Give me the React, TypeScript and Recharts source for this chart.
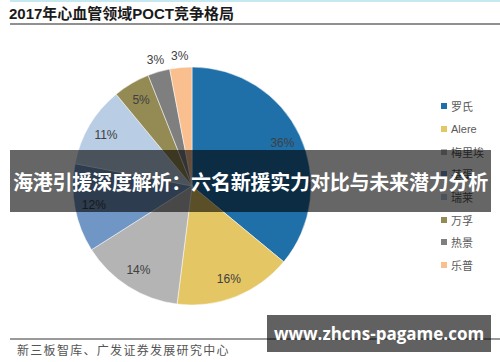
import { Cell, Legend, Pie, PieChart } from "recharts";

const companies = ["罗氏", "Alere", "梅里埃", "基蛋", "瑞莱", "万孚", "热景", "乐普"];
const shares = [36, 16, 14, 12, 11, 5, 3, 3];
const colors = ["#1f6fa8", "#e4c665", "#b4b4b4", "#7096c6", "#b9cde5", "#948a54", "#7f7f7f", "#f9bf8f"];

const data = companies.map((name, i) => ({ name, value: shares[i] }));

const RAD = Math.PI / 180;

const renderLabel = (props: any) => {
  const { cx, cy, midAngle, outerRadius, value } = props;
  const r = value < 4 ? outerRadius + 12 : outerRadius * 0.84;
  const x = cx + r * Math.cos(-midAngle * RAD);
  const y = cy + r * Math.sin(-midAngle * RAD);
  return (
    <text
      x={x}
      y={y}
      textAnchor="middle"
      dominantBaseline="central"
      fontSize={12}
      fontFamily="Liberation Sans, Arial, sans-serif"
      fill="#404040"
    >
      {`${value}%`}
    </text>
  );
};

const renderLegend = () => (
  <div style={{ fontFamily: "Noto Sans CJK SC, sans-serif" }}>
    {companies.map((name, i) => (
      <div key={name} style={{ display: "flex", alignItems: "center", height: 22.7 }}>
        <span style={{ width: 6, height: 6, background: colors[i], marginRight: 4 }} />
        <span
          style={{
            fontSize: 11,
            color: "#595959",
            fontFamily: name === "Alere" ? "Liberation Sans, Arial, sans-serif" : undefined,
          }}
        >
          {name}
        </span>
      </div>
    ))}
  </div>
);

export default function App() {
  return (
    <div style={{ position: "absolute", left: 0, top: 0, width: 500, height: 362, background: "#fff", overflow: "hidden" }}>
      <div style={{ position: "absolute", left: 10, top: 0, width: 490, height: 2, background: "#c6e9f1" }} />
      <div
        style={{
          position: "absolute",
          left: 9,
          top: 4,
          fontSize: 15,
          fontWeight: 700,
          color: "#1a1a1a",
          fontFamily: "Liberation Sans, Noto Sans CJK SC, sans-serif",
          whiteSpace: "nowrap",
          lineHeight: "20px",
        }}
      >
        2017年心血管领域POCT竞争格局
      </div>
      <div style={{ position: "absolute", left: 10, top: 23, width: 490, height: 2, background: "#909090" }} />

      <div style={{ position: "absolute", left: 0, top: 0 }}>
        <PieChart width={500} height={362} margin={{ top: 0, right: 0, bottom: 0, left: 0 }}>
          <Pie
            data={data}
            dataKey="value"
            nameKey="name"
            cx={192}
            cy={186}
            outerRadius={119}
            startAngle={90}
            endAngle={-270}
            stroke="#ffffff"
            strokeWidth={0.5}
            label={renderLabel}
            labelLine={false}
            isAnimationActive={false}
          >
            {data.map((d, i) => (
              <Cell key={d.name} fill={colors[i]} />
            ))}
          </Pie>
          <Legend
            content={renderLegend}
            layout="vertical"
            wrapperStyle={{ position: "absolute", left: 441, top: 95, width: 60 }}
          />
        </PieChart>
      </div>

      <div
        style={{
          position: "absolute",
          left: 10,
          top: 150,
          width: 481,
          height: 62,
          background: "rgba(0,0,0,0.6)",
          color: "#fff",
          fontSize: 20,
          fontWeight: 700,
          fontFamily: "Noto Sans CJK SC, sans-serif",
          display: "flex",
          alignItems: "center",
          justifyContent: "center",
          whiteSpace: "nowrap",
          letterSpacing: -0.2,
        }}
      >
        海港引援深度解析：六名新援实力对比与未来潜力分析
      </div>

      <div style={{ position: "absolute", left: 10, top: 338, width: 490, height: 2, background: "#9a9a9a" }} />
      <div
        style={{
          position: "absolute",
          left: 17,
          top: 342,
          fontSize: 12,
          color: "#555",
          fontFamily: "Noto Sans CJK SC, sans-serif",
          letterSpacing: 1.3,
          whiteSpace: "nowrap",
          lineHeight: "16px",
        }}
      >
        新三板智库、广发证券发展研究中心
      </div>

      <div
        style={{
          position: "absolute",
          left: 267,
          top: 315,
          width: 224,
          height: 37,
          background: "rgba(0,0,0,0.62)",
          color: "#fff",
          fontSize: 17,
          fontWeight: 700,
          fontFamily: "Open Sans, sans-serif",
          display: "flex",
          alignItems: "center",
          justifyContent: "center",
          whiteSpace: "nowrap",
        }}
      >
        www.zhcns-pagame.com
      </div>
    </div>
  );
}
